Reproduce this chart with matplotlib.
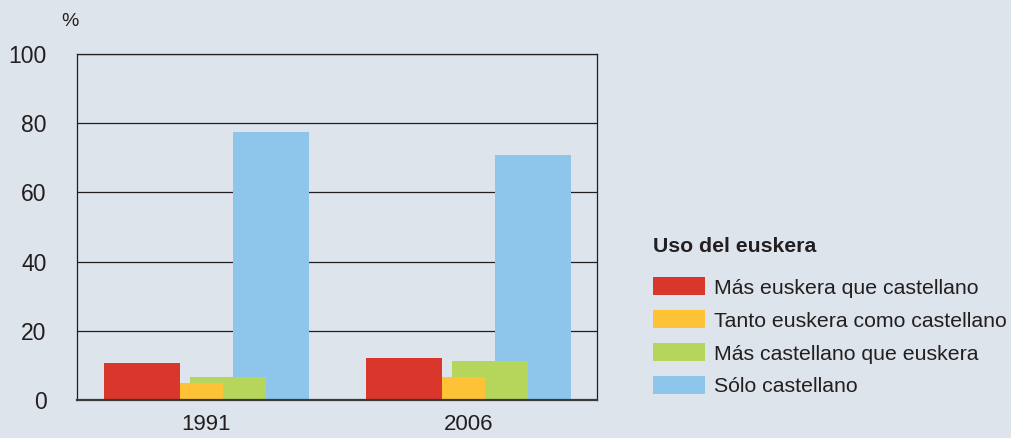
import numpy as np
import matplotlib.pyplot as plt
from matplotlib.patches import Patch

plt.rcParams['font.family'] = ['Liberation Sans', 'DejaVu Sans']

# ─── datos ─────────────────────────────────────
years = ["1991", "2006"]
categories = ["Más euskera que castellano", "Tanto euskera como castellano",
              "Más castellano que euskera", "Sólo castellano"]
mas_euskera = [10.7, 12.2]
tanto = [5.0, 6.6]
mas_castellano = [6.6, 11.3]
solo_castellano = [77.6, 70.7]

BG = "#dde4ec"
TXT = "#231f20"
colors = ["#d9372b", "#fec236", "#b5d55b", "#8dc5eb"]

fig = plt.figure(figsize=(10.12, 4.38), dpi=100, facecolor=BG)
ax = fig.add_axes([0.0761, 0.0868, 0.5138, 0.7899], facecolor=BG)

x = np.arange(len(years))
w = 0.290
# orden de dibujo: azul abajo, luego verde, amarillo encima
ax.bar(x - 0.246, mas_euskera, w, color=colors[0], zorder=3)
ax.bar(x + 0.246, solo_castellano, w, color=colors[3], zorder=3)
ax.bar(x + 0.082, mas_castellano, w, color=colors[2], zorder=4)
ax.bar(x - 0.019, tanto, 0.164, color=colors[1], zorder=5)

ax.set_xlim(-0.494, 1.490)
ax.set_ylim(0, 100)
ax.set_yticks([0, 20, 40, 60, 80, 100])
ax.set_xticks(x)
ax.set_xticklabels(years)
ax.tick_params(length=0, labelsize=16.5, labelcolor=TXT)
ax.tick_params(axis='y', pad=22)
ax.tick_params(axis='x', pad=10, labelsize=16)
ax.grid(axis='y', color="#231f20", lw=0.9, zorder=1)
for s in ["left", "top", "right"]:
    ax.spines[s].set_color("#231f20")
    ax.spines[s].set_linewidth(0.9)
ax.spines["bottom"].set_color("#3a3a3a")
ax.spines["bottom"].set_linewidth(1.6)
ax.spines["bottom"].set_zorder(6)

fig.text(0.061, 0.932, "%", fontsize=14, color=TXT, ha="left", va="bottom")

handles = [Patch(facecolor=c, edgecolor="none") for c in colors]
leg = fig.legend(handles, categories, loc="upper left", bbox_to_anchor=(0.645, 0.458),
                 frameon=False, fontsize=15.3, labelcolor=TXT,
                 handlelength=2.48, handleheight=0.94, handletextpad=0.42,
                 labelspacing=0.59, borderpad=0, borderaxespad=0,
                 title="Uso del euskera", title_fontproperties={"size": 15.3, "weight": "bold"},
                 alignment="left")
leg.get_title().set_color(TXT)
leg._legend_box.sep = 15

fig.savefig("out.png", dpi=100, facecolor=BG)
